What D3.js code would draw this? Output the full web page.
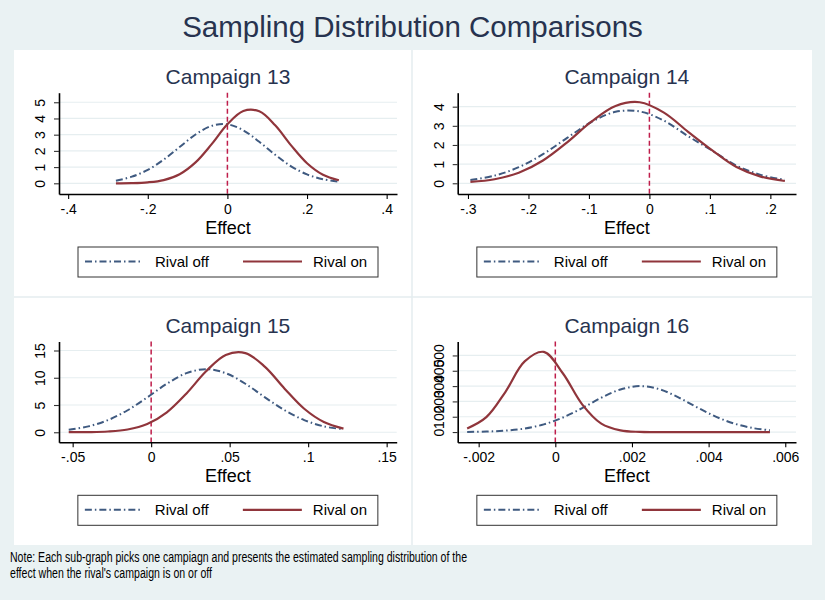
<!DOCTYPE html>
<html>
<head>
<meta charset="utf-8">
<script src="https://cdn.jsdelivr.net/npm/d3@7"></script>
<style>
  body { margin: 0; background: #eaf2f3; }
  svg { display: block; font-family: "Liberation Sans", Arial, sans-serif; }
</style>
</head>
<body>
<div id="chart"></div>
<script>
// Sampling distributions of the effect, rival campaign off vs on
const c13X   = [-0.28, -0.24, -0.20, -0.16, -0.12, -0.08, -0.04, 0, 0.04, 0.08, 0.12, 0.16, 0.20, 0.24, 0.28];
const c13Off = [0.16, 0.41, 0.83, 1.46, 2.24, 3.01, 3.54, 3.64, 3.27, 2.56, 1.76, 1.05, 0.55, 0.25, 0.10];
const c13On  = [0.00, 0.01, 0.06, 0.20, 0.56, 1.29, 2.40, 3.64, 4.46, 4.44, 3.58, 2.34, 1.24, 0.53, 0.19];

const c14X   = [-0.296, -0.256, -0.216, -0.176, -0.136, -0.096, -0.056, -0.016, 0.024, 0.064, 0.104, 0.144, 0.184, 0.224];
const c14Off = [0.17, 0.40, 0.84, 1.52, 2.37, 3.20, 3.73, 3.75, 3.27, 2.46, 1.70, 0.92, 0.44, 0.18];
const c14On  = [0.07, 0.21, 0.55, 1.19, 2.14, 3.22, 4.04, 4.23, 3.69, 2.69, 1.72, 0.85, 0.35, 0.12];

const c15X   = [-0.0525, -0.04, -0.0275, -0.015, -0.0025, 0.01, 0.0225, 0.035, 0.0475, 0.06, 0.0725, 0.085, 0.0975, 0.11, 0.1225];
const c15Off = [0.46, 1.08, 2.23, 4.04, 6.40, 8.90, 10.84, 11.58, 10.84, 8.90, 6.40, 4.04, 2.23, 1.08, 0.55];
const c15On  = [0.01, 0.03, 0.14, 0.51, 1.52, 3.67, 7.13, 11.19, 14.19, 14.52, 12.00, 8.00, 4.31, 1.88, 0.66];

const c16X   = [-0.0023, -0.0018, -0.0013, -0.0008, -0.0003, 0.0002, 0.0007, 0.0012, 0.0017, 0.0022, 0.0027, 0.0032, 0.0037, 0.0042, 0.0047, 0.0052, 0.0056];
const c16Off = [1, 3, 9, 23, 50, 95, 156, 224, 278, 300, 281, 228, 161, 99, 53, 24, 12];
const c16On  = [23, 97, 263, 461, 523, 382, 181, 55, 11, 1, 0, 0, 0, 0, 0, 0, 0];

// tick values and labels (Stata style, no leading zero)
const c13XTicks = [-0.4, -0.2, 0, 0.2, 0.4];
const c13XLabels = ['-.4', '-.2', '0', '.2', '.4'];
const c13YTicks = [0, 1, 2, 3, 4, 5];
const c14XTicks = [-0.3, -0.2, -0.1, 0, 0.1, 0.2];
const c14XLabels = ['-.3', '-.2', '-.1', '0', '.1', '.2'];
const c14YTicks = [0, 1, 2, 3, 4];
const c15XTicks = [-0.05, 0, 0.05, 0.1, 0.15];
const c15XLabels = ['-.05', '0', '.05', '.1', '.15'];
const c15YTicks = [0, 5, 10, 15];
const c16XTicks = [-0.002, 0, 0.002, 0.004, 0.006];
const c16XLabels = ['-.002', '0', '.002', '.004', '.006'];
const c16YTicks = [0, 100, 200, 300, 400, 500];

const seriesNames = ['Rival off', 'Rival on'];
const offColor = '#3f5a80';
const onColor = '#90353b';
const vlineColor = '#bf1e4b';
const titleColor = '#27334f';
const offDash = '7,3,1.5,3';

const W = 825, H = 600;

const svg = d3.select('#chart')
  .append('svg')
  .attr('width', W)
  .attr('height', H);

// outer background + white graph region
svg.append('rect').attr('width', W).attr('height', H).attr('fill', '#eaf2f3');
svg.append('rect')
  .attr('x', 14).attr('y', 50)
  .attr('width', 798).attr('height', 495)
  .attr('fill', '#ffffff');
// dividers between the sub-graphs
svg.append('line').attr('x1', 412).attr('x2', 412).attr('y1', 50).attr('y2', 545)
  .attr('stroke', '#e4ecef').attr('stroke-width', 1.5);
svg.append('line').attr('x1', 14).attr('x2', 812).attr('y1', 297).attr('y2', 297)
  .attr('stroke', '#e4ecef').attr('stroke-width', 1.5);

// Main title
svg.append('text')
  .attr('x', 412.5)
  .attr('y', 37)
  .attr('text-anchor', 'middle')
  .attr('font-size', '29.5px')
  .attr('fill', titleColor)
  .text('Sampling Distribution Comparisons');

const panels = [
  {title: 'Campaign 13', xs: c13X, off: c13Off, on: c13On,
   xTicks: c13XTicks, xLabels: c13XLabels, yTicks: c13YTicks,
   xDomain: [-0.423, 0.426], yDomain: [-0.66, 5.59],
   left: 59, right: 397, top: 92.7, bottom: 194},
  {title: 'Campaign 14', xs: c14X, off: c14Off, on: c14On,
   xTicks: c14XTicks, xLabels: c14XLabels, yTicks: c14YTicks,
   xDomain: [-0.317, 0.2424], yDomain: [-0.56, 4.73],
   left: 457.7, right: 796, top: 92.7, bottom: 194},
  {title: 'Campaign 15', xs: c15X, off: c15Off, on: c15On,
   xTicks: c15XTicks, xLabels: c15XLabels, yTicks: c15YTicks,
   xDomain: [-0.0587, 0.1564], yDomain: [-1.84, 16.65],
   left: 59, right: 396.7, top: 341.5, bottom: 442.3},
  {title: 'Campaign 16', xs: c16X, off: c16Off, on: c16On,
   xTicks: c16XTicks, xLabels: c16XLabels, yTicks: c16YTicks,
   xDomain: [-0.002547, 0.00628], yDomain: [-66.9, 591],
   left: 457.7, right: 796, top: 341.5, bottom: 442.3}
];

function drawPanel(p) {
  const g = svg.append('g');
  const cx = (p.left + p.right) / 2;

  const x = d3.scaleLinear().domain(p.xDomain).range([p.left, p.right]);
  const y = d3.scaleLinear().domain(p.yDomain).range([p.bottom, p.top]);

  // sub-graph title
  g.append('text')
    .attr('x', cx)
    .attr('y', p.top - 8.5)
    .attr('text-anchor', 'middle')
    .attr('font-size', '21px')
    .attr('fill', titleColor)
    .text(p.title);

  // horizontal grid lines
  g.selectAll('.grid')
    .data(p.yTicks)
    .enter()
    .append('line')
    .attr('class', 'grid')
    .attr('x1', p.left)
    .attr('x2', p.right)
    .attr('y1', d => y(d))
    .attr('y2', d => y(d))
    .attr('stroke', '#e6eef0')
    .attr('stroke-width', 1.2);

  // reference line at zero effect
  g.append('line')
    .attr('x1', x(0)).attr('x2', x(0))
    .attr('y1', p.top).attr('y2', p.bottom)
    .attr('stroke', vlineColor)
    .attr('stroke-width', 1.5)
    .attr('stroke-dasharray', '5,3');

  const line = d3.line()
    .x(d => x(d.x))
    .y(d => y(d.v))
    .curve(d3.curveCatmullRom);

  const offData = p.xs.map((v, i) => ({x: v, v: p.off[i]}));
  const onData = p.xs.map((v, i) => ({x: v, v: p.on[i]}));

  g.append('path')
    .datum(offData)
    .attr('fill', 'none')
    .attr('stroke', offColor)
    .attr('stroke-width', 2)
    .attr('stroke-dasharray', offDash)
    .attr('d', line);

  g.append('path')
    .datum(onData)
    .attr('fill', 'none')
    .attr('stroke', onColor)
    .attr('stroke-width', 2.2)
    .attr('d', line);

  // x axis
  const xAxis = g.append('g')
    .attr('transform', `translate(0,${p.bottom})`)
    .call(d3.axisBottom(x)
      .tickValues(p.xTicks)
      .tickFormat((d, i) => p.xLabels[i])
      .tickSize(5)
      .tickSizeOuter(0)
      .tickPadding(5))
    .attr('font-size', 14)
    .attr('font-family', '"Liberation Sans", Arial, sans-serif');
  xAxis.select('.domain').attr('stroke', '#000').attr('stroke-width', 1.6);
  xAxis.selectAll('.tick line').attr('stroke', '#000').attr('stroke-width', 1.1);
  xAxis.selectAll('.tick text').attr('fill', '#000');

  // y axis, labels rotated like Stata
  const yAxis = g.append('g')
    .attr('transform', `translate(${p.left},0)`)
    .call(d3.axisLeft(y)
      .tickValues(p.yTicks)
      .tickFormat(d3.format('d'))
      .tickSize(5)
      .tickSizeOuter(0))
    .attr('font-size', 14)
    .attr('font-family', '"Liberation Sans", Arial, sans-serif');
  yAxis.select('.domain').attr('stroke', '#000').attr('stroke-width', 1.6);
  yAxis.selectAll('.tick line').attr('stroke', '#333').attr('stroke-width', 1.1);
  yAxis.selectAll('.tick text')
    .attr('x', 0)
    .attr('dy', 0)
    .attr('text-anchor', 'middle')
    .attr('fill', '#000')
    .attr('transform', 'translate(-14,0) rotate(-90)');

  // x axis title
  g.append('text')
    .attr('x', cx)
    .attr('y', p.bottom + 40)
    .attr('text-anchor', 'middle')
    .attr('font-size', '18px')
    .attr('fill', '#000')
    .text('Effect');

  // legend box
  const lx = cx - 150;
  const ly = p.bottom + 53;
  const legend = g.append('g').attr('transform', `translate(${lx},${ly})`);
  legend.append('rect')
    .attr('width', 300)
    .attr('height', 30)
    .attr('fill', '#fff')
    .attr('stroke', '#333')
    .attr('stroke-width', 1);

  legend.append('line')
    .attr('x1', 7).attr('x2', 65)
    .attr('y1', 14.5).attr('y2', 14.5)
    .attr('stroke', offColor)
    .attr('stroke-width', 2)
    .attr('stroke-dasharray', offDash);
  legend.append('text')
    .attr('x', 77).attr('y', 20)
    .attr('font-size', '15px')
    .attr('fill', '#000')
    .text(seriesNames[0]);

  legend.append('line')
    .attr('x1', 165).attr('x2', 224)
    .attr('y1', 14.5).attr('y2', 14.5)
    .attr('stroke', onColor)
    .attr('stroke-width', 2.2);
  legend.append('text')
    .attr('x', 235).attr('y', 20)
    .attr('font-size', '15px')
    .attr('fill', '#000')
    .text(seriesNames[1]);
}

panels.forEach(drawPanel);

// Note below the graph
const noteLines = [
  "Note: Each sub-graph picks one campiagn and presents the estimated sampling distribution of the",
  "effect when the rival's campaign is on or off"
];
const noteWidths = [457, 202];
svg.selectAll('.note')
  .data(noteLines)
  .enter()
  .append('text')
  .attr('class', 'note')
  .attr('x', 10)
  .attr('y', (d, i) => 562 + i * 16)
  .attr('font-size', '15.5px')
  .attr('font-family', '"Liberation Sans Narrow", "Liberation Sans", Arial, sans-serif')
  .attr('fill', '#000')
  .attr('textLength', (d, i) => noteWidths[i])
  .attr('lengthAdjust', 'spacingAndGlyphs')
  .text(d => d);
</script>
</body>
</html>
